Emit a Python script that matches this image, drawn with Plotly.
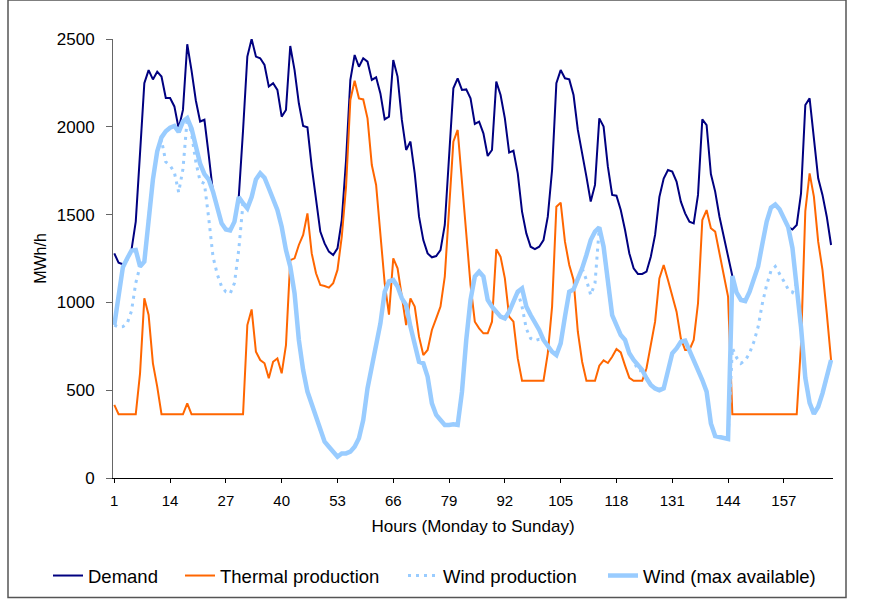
import plotly.graph_objects as go

hours = list(range(1, 169))

demand = [
    1279, 1226, 1217, 1240, 1298, 1460, 1850, 2248, 2323, 2270, 2314, 2286, 2164, 2164, 2116, 1990, 2096, 2470, 2320, 2150,
    2030, 2040, 1840, 1625, 1540, 1450, 1415, 1410, 1460, 1600, 1980, 2400, 2500, 2400, 2390, 2352, 2229, 2248, 2210, 2058,
    2096, 2460, 2323, 2134, 2005, 1997, 1773, 1583, 1403, 1336, 1289, 1270, 1308, 1469, 1811, 2267, 2409, 2342, 2390, 2371,
    2267, 2282, 2190, 2043, 2058, 2380, 2286, 2039, 1868, 1916, 1735, 1488, 1355, 1279, 1257, 1264, 1298, 1441, 1849, 2219,
    2276, 2210, 2213, 2162, 2016, 2029, 1963, 1834, 1868, 2257, 2181, 2048, 1853, 1864, 1735, 1517, 1393, 1317, 1304, 1317,
    1355, 1488, 1754, 2248, 2323, 2276, 2270, 2181, 1982, 1858, 1716, 1574, 1669, 2048, 2001, 1773, 1612, 1608, 1526, 1412,
    1279, 1194, 1162, 1162, 1175, 1260, 1384, 1600, 1705, 1754, 1745, 1688, 1574, 1507, 1460, 1450, 1612, 2043, 2010, 1731,
    1631, 1488, 1374, 1245, 1150, 1052, 1015, 1015, 1060, 1138, 1208, 1340, 1461, 1541, 1560, 1529, 1475, 1431, 1415, 1441,
    1621, 2124, 2162, 1944, 1707, 1612, 1488, 1327,
]

thermal = [
    416, 363, 363, 363, 363, 363, 596, 1023, 928, 653, 520, 363, 363, 363, 363, 363, 363, 425, 363, 363,
    363, 363, 363, 363, 363, 363, 363, 363, 363, 363, 363, 871, 960, 719, 672, 653, 568, 662, 681, 596,
    757, 1241, 1251, 1327, 1384, 1507, 1279, 1166, 1099, 1093, 1084, 1109, 1185, 1374, 1659, 2153, 2262, 2162, 2156, 2048,
    1782, 1669, 1374, 1109, 930, 1251, 1194, 1033, 871, 1023, 976, 805, 700, 729, 843, 909, 976, 1147, 1545, 1915,
    1982, 1700, 1400, 1100, 890, 852, 824, 824, 890, 1302, 1260, 1137, 919, 890, 681, 554, 554, 554, 554, 554,
    554, 710, 976, 1545, 1568, 1346, 1213, 1128, 833, 662, 554, 554, 554, 640, 670, 655, 690, 735, 715, 640,
    570, 554, 554, 554, 625, 767, 890, 1137, 1213, 1128, 1033, 947, 795, 729, 729, 786, 995, 1469, 1526, 1422,
    1403, 1270, 1156, 1033, 363, 363, 363, 363, 363, 363, 363, 363, 363, 363, 363, 363, 363, 363, 363, 363,
    760, 1520, 1735, 1602, 1346, 1185, 938, 672,
]

wind_production = [
    871, 860, 862, 880, 950, 1110, 1205, 1232, 1480, 1700, 1860, 1925, 1800, 1780, 1740, 1627, 1760, 2049, 1960, 1800,
    1690, 1677, 1480, 1260, 1160, 1090, 1060, 1050, 1110, 1300, 1565, 1536, 1600, 1700, 1735, 1710, 1650, 1583, 1526, 1431,
    1298, 1204, 1052, 786, 615, 492, 425, 349, 273, 207, 178, 150, 121, 140, 140, 150, 178, 226, 330, 511,
    634, 767, 880, 1060, 1120, 1128, 1090, 1023, 985, 862, 757, 662, 653, 577, 425, 359, 330, 302, 302, 306,
    302, 490, 786, 1014, 1147, 1175, 1147, 1014, 976, 947, 919, 909, 947, 1004, 1061, 976, 850, 795, 782, 790,
    786, 748, 719, 700, 767, 919, 1061, 1074, 1128, 1194, 1128, 1042, 1109, 1427, 1317, 1109, 928, 871, 814, 786,
    710, 672, 610, 612, 568, 530, 510, 500, 510, 615, 710, 738, 776, 782, 729, 672, 615, 558, 492, 311,
    239, 235, 230, 222, 740, 685, 653, 670, 710, 775, 860, 995, 1100, 1180, 1205, 1165, 1120, 1075, 1057, 1110,
    860, 570, 428, 365, 406, 482, 568, 672,
]

wind_max = [
    871, 1040, 1200, 1250, 1295, 1298, 1205, 1232, 1480, 1700, 1860, 1940, 1975, 1995, 2005, 1970, 2030, 2049, 1990, 1880,
    1790, 1730, 1700, 1630, 1540, 1450, 1415, 1410, 1460, 1600, 1565, 1536, 1600, 1700, 1735, 1710, 1650, 1583, 1526, 1431,
    1298, 1204, 1052, 786, 615, 492, 425, 349, 273, 207, 178, 150, 121, 140, 140, 150, 178, 226, 330, 511,
    634, 767, 880, 1060, 1120, 1128, 1090, 1023, 985, 862, 757, 662, 653, 577, 425, 359, 330, 302, 302, 306,
    302, 490, 786, 1014, 1147, 1175, 1147, 1014, 976, 947, 919, 909, 947, 1004, 1061, 1080, 976, 928, 890, 843,
    786, 748, 719, 700, 767, 919, 1061, 1074, 1128, 1194, 1270, 1355, 1403, 1427, 1317, 1109, 928, 871, 814, 786,
    710, 672, 644, 615, 568, 530, 510, 500, 510, 615, 710, 738, 776, 782, 729, 672, 615, 558, 492, 311,
    239, 235, 230, 222, 1150, 1055, 1014, 1008, 1060, 1140, 1205, 1335, 1460, 1540, 1558, 1530, 1472, 1430, 1310, 1110,
    860, 570, 428, 365, 406, 482, 568, 672,
]

tick_vals = [1, 14, 27, 40, 53, 66, 79, 92, 105, 118, 131, 144, 157]
y_ticks = [0, 500, 1000, 1500, 2000, 2500]

FONT = "Liberation Sans, Arial, sans-serif"
L, R, T, B = 113, 38, 39, 121
PW, PH = 871 - L - R, 599 - T - B


def px(x):
    return (x - L) / PW


def py(y):
    return (599 - B - y) / PH


fig = go.Figure()
fig.add_trace(go.Scatter(x=hours, y=demand, mode="lines", name="Demand", legend="legend",
                         line=dict(color="#000080", width=2)))
fig.add_trace(go.Scatter(x=hours, y=thermal, mode="lines", name="Thermal production", legend="legend2",
                         line=dict(color="#FF6600", width=2)))
fig.add_trace(go.Scatter(x=hours, y=wind_production, mode="lines", name="Wind production", legend="legend3",
                         line=dict(color="#99CCFF", width=3, dash="3px,5px")))
fig.add_trace(go.Scatter(x=hours, y=wind_max, mode="lines", name="Wind (max available)", legend="legend4",
                         line=dict(color="#99CCFF", width=4.5)))

leg_common = dict(orientation="h", xanchor="left", yanchor="middle", y=py(576),
                  font=dict(size=18.5, family=FONT), bgcolor="rgba(0,0,0,0)", borderwidth=0)

fig.update_layout(
    width=871, height=599,
    margin=dict(l=L, r=R, t=T, b=B, autoexpand=False),
    paper_bgcolor="white", plot_bgcolor="white",
    font=dict(family=FONT, size=15, color="black"),
    showlegend=True,
    legend=dict(leg_common, x=px(48)),
    legend2=dict(leg_common, x=px(180)),
    legend3=dict(leg_common, x=px(403)),
    legend4=dict(leg_common, x=px(603)),
    shapes=[dict(type="rect", xref="paper", yref="paper",
                 x0=px(8), x1=px(846), y0=py(597.5), y1=py(0),
                 line=dict(color="#555555", width=1.5), fillcolor="rgba(0,0,0,0)", layer="below")],
)

fig.update_xaxes(
    range=[0.7, 168.45], tickmode="array", tickvals=tick_vals, ticktext=[str(v) for v in tick_vals],
    showgrid=False, zeroline=False, showline=True, linecolor="black", linewidth=1,
    ticks="outside", ticklen=4, tickcolor="black", ticklabelstandoff=5,
    title=dict(text="Hours (Monday to Sunday)", standoff=12, font=dict(size=17)),
    tickfont=dict(size=15),
)
fig.update_yaxes(
    range=[0, 2500], tickmode="array", tickvals=y_ticks,
    showgrid=False, zeroline=False, showline=True, linecolor="#666666", linewidth=1,
    ticks="outside", ticklen=6, tickcolor="#666666",
    title=dict(text="MWh/h", standoff=6, font=dict(size=16)),
    tickfont=dict(size=17), ticklabelstandoff=8,
)

fig.write_html("out.html")
